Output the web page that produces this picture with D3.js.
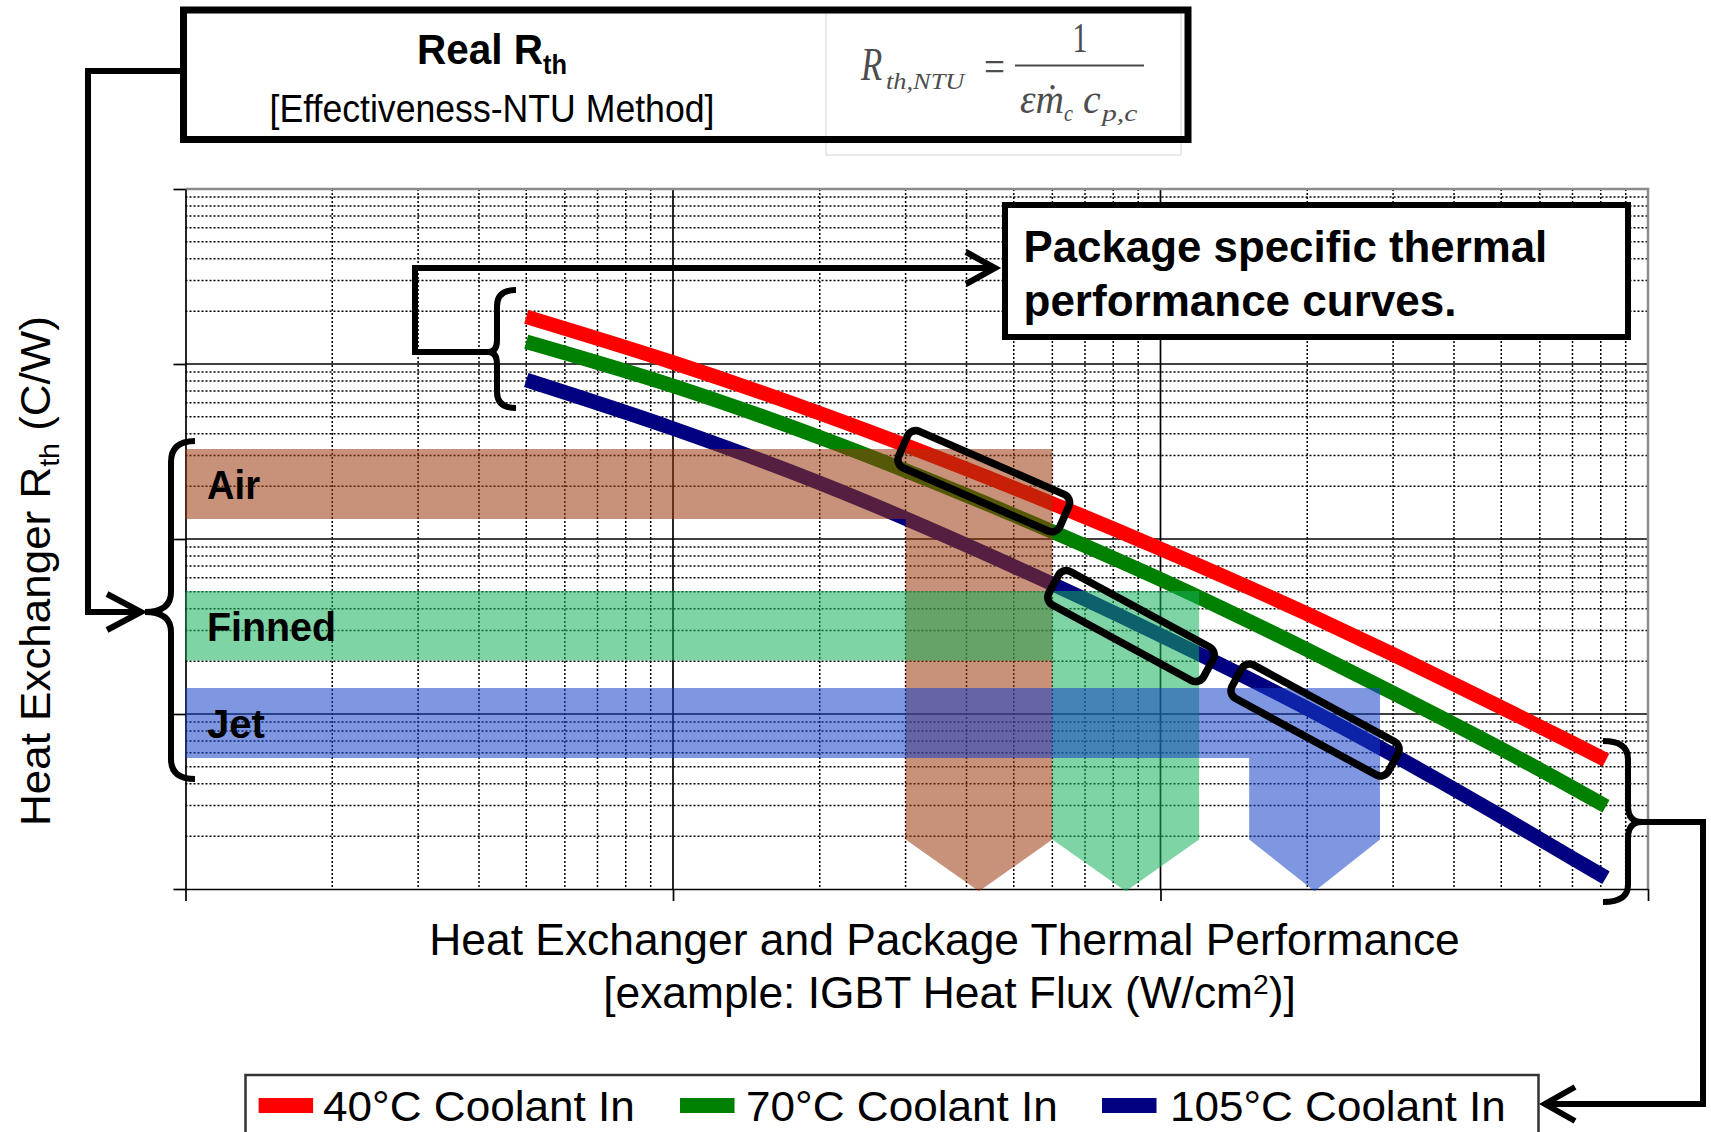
<!DOCTYPE html>
<html>
<head>
<meta charset="utf-8">
<script src="https://cdn.jsdelivr.net/npm/d3@7"></script>
<style>
  html, body { margin: 0; padding: 0; background: #fff; }
  svg { display: block; }
</style>
</head>
<body>
<script>
'use strict'

// heat flux (W/cm2) where the curves were read
let fluxX = [5, 10, 20, 50, 100, 200, 300, 500, 700, 820]
// heat exchanger Rth (C/W) for each coolant temperature
let rth40  = [18.6, 10.2, 5.23, 1.96, 0.879, 0.373, 0.219, 0.109, 0.0683, 0.0545]
let rth70  = [13.4, 7.5, 3.81, 1.37, 0.588, 0.233, 0.132, 0.0632, 0.038, 0.0297]
let rth105 = [8.1, 4.28, 2.09, 0.698, 0.282, 0.1075, 0.0584, 0.026, 0.015, 0.0116]

let seriesNames = ["40°C Coolant In", "70°C Coolant In", "105°C Coolant In"]
let seriesColors = ["#ff0000", "#008000", "#000080"]

// cooler technology bands: Rth range and flux range of the down arrow
let bandNames = ["Air", "Finned", "Jet"]
let bandRth = [[1.30, 3.27], [0.202, 0.505], [0.0561, 0.141]]
let bandFlux = [[30, 60], [60, 120], [152, 282]]
let bandColors = ["#9b390d", "#16b15b", "#1640c7"]
let arrowBottom = 0.0192, arrowTip = 0.0097

// black rounded boxes on the curves (centre in data units)
let boxFlux = [43.4, 87, 207.5]
let boxRth = [2.14, 0.318, 0.0924]

let width = 1711, height = 1132
let margin = { top: 189, right: 63, bottom: 243, left: 185.5 }

let x = d3.scaleLog().domain([1, 1000]).range([margin.left, width - margin.right])
let y = d3.scaleLog().domain([0.01, 100]).range([height - margin.bottom, margin.top])

let svg = d3.select("body").append("svg")
  .attr("width", width)
  .attr("height", height)

let sans = "'Liberation Sans', Arial, sans-serif"
let serif = "'Liberation Serif', 'Times New Roman', serif"

// text that is squeezed/stretched to a given width
function fitText(parent, tx, ty, w, opts, build) {
  let g = parent.append("g")
    .attr("transform", "translate(" + tx + "," + ty + ")" + (opts.rotate ? " rotate(" + opts.rotate + ")" : ""))
  let inner = g.append("g")
  let t = inner.append("text")
    .attr("text-anchor", opts.anchor || "start")
    .attr("fill", opts.fill || "#000")
    .style("font-family", opts.family || sans)
    .style("font-size", opts.size + "px")
    .style("font-weight", opts.weight || "normal")
    .style("font-style", opts.style || "normal")
  build(t)
  let bw = t.node().getBBox().width
  if (w && bw > 0) inner.attr("transform", "scale(" + (w / bw) + ",1)")
  return t
}

function isMajor(v) {
  let l = Math.log10(v)
  return Math.abs(l - Math.round(l)) < 1e-6
}

let [x0, x1] = x.range()
let [y0, y1] = y.range()

// minor grid, dotted
let xMinor = x.ticks().filter(v => !isMajor(v))
let yMinor = y.ticks().filter(v => !isMajor(v))

svg.append("g").selectAll("line")
  .data(yMinor).enter().append("line")
  .attr("x1", x0).attr("x2", x1)
  .attr("y1", d => y(d)).attr("y2", d => y(d))
  .attr("stroke", "#000").attr("stroke-width", 1.5).attr("stroke-dasharray", "2,2")

svg.append("g").selectAll("line")
  .data(xMinor).enter().append("line")
  .attr("x1", d => x(d)).attr("x2", d => x(d))
  .attr("y1", y1).attr("y2", y0)
  .attr("stroke", "#000").attr("stroke-width", 1.5).attr("stroke-dasharray", "2,2")

// major grid
let xMajor = [10, 100]
let yMajor = [0.1, 1, 10]
svg.append("g").selectAll("line")
  .data(yMajor).enter().append("line")
  .attr("x1", x0).attr("x2", x1)
  .attr("y1", d => y(d)).attr("y2", d => y(d))
  .attr("stroke", "#000").attr("stroke-width", 1.7)
svg.append("g").selectAll("line")
  .data(xMajor).enter().append("line")
  .attr("x1", d => x(d)).attr("x2", d => x(d))
  .attr("y1", y1).attr("y2", y0)
  .attr("stroke", "#000").attr("stroke-width", 1.7)

// gray frame top / right
svg.append("path")
  .attr("d", "M" + x0 + "," + y1 + "H" + x1 + "V" + y0)
  .attr("fill", "none").attr("stroke", "#8c8c8c").attr("stroke-width", 2.5)

// axes with outside ticks only
let yAxis = d3.axisLeft(y).tickValues([0.01, 0.1, 1, 10, 100]).tickSize(12).tickSizeOuter(0).tickFormat("")
let xAxis = d3.axisBottom(x).tickValues([1, 10, 100, 1000]).tickSize(12).tickSizeOuter(0).tickFormat("")
svg.append("g").attr("transform", "translate(" + x0 + ",0)").call(yAxis)
svg.append("g").attr("transform", "translate(0," + y0 + ")").call(xAxis)
svg.selectAll(".domain, .tick line").attr("stroke", "#000").attr("stroke-width", 1.7)

// curves
let line = d3.line()
  .x(d => x(d[0]))
  .y(d => y(d[1]))
  .curve(d3.curveMonotoneX)

let series = [rth40, rth70, rth105]
svg.append("g").selectAll("path")
  .data(series).enter().append("path")
  .attr("d", s => line(fluxX.map((f, i) => [f, s[i]])))
  .attr("fill", "none")
  .attr("stroke", (d, i) => seriesColors[i])
  .attr("stroke-width", 14.5)

// transparent technology bands with down arrows
function bandPoints(i) {
  let [lo, hi] = bandRth[i]
  let [f0, f1] = bandFlux[i]
  let fm = Math.sqrt(f0 * f1)
  return [
    [x0, y(hi)], [x(f1), y(hi)], [x(f1), y(arrowBottom)], [x(fm), y(arrowTip)],
    [x(f0), y(arrowBottom)], [x(f0), y(lo)], [x0, y(lo)]
  ]
}
svg.append("g").selectAll("polygon")
  .data(bandNames).enter().append("polygon")
  .attr("points", (d, i) => bandPoints(i).map(p => p.join(",")).join(" "))
  .attr("fill", (d, i) => bandColors[i])
  .attr("fill-opacity", 0.55)

// band labels
let bandLabelW = [53, 129, 58]
bandNames.forEach((name, i) => {
  let yy = y(bandRth[i][0]) - 20
  fitText(svg, 207, yy, bandLabelW[i], { size: 40, weight: "bold" }, t => t.text(name))
})

// rounded boxes
let boxW = [176, 176, 178], boxH = [40, 38, 38], boxA = [23.5, 28.5, 28.5]
svg.append("g").selectAll("rect")
  .data(boxFlux).enter().append("rect")
  .attr("x", (d, i) => -boxW[i] / 2).attr("y", (d, i) => -boxH[i] / 2)
  .attr("width", (d, i) => boxW[i]).attr("height", (d, i) => boxH[i])
  .attr("rx", 9)
  .attr("transform", (d, i) => "translate(" + x(d) + "," + y(boxRth[i]) + ") rotate(" + boxA[i] + ")")
  .attr("fill", "none").attr("stroke", "#000").attr("stroke-width", 7.5)

// braces, connectors and arrows
let ann = svg.append("g").attr("fill", "none").attr("stroke", "#000")
  .attr("stroke-width", 6).attr("stroke-linejoin", "miter")

// left big brace + arrow from title box
ann.append("path").attr("d", "M195,441 Q171,441 171,462 L171,592 Q171,612 145,612 Q171,612 171,632 L171,759 Q171,779 195,779")
ann.append("path").attr("d", "M183,71 L88,71 L88,612 L140,612")
ann.append("path").attr("d", "M107,594 L141,612 L107,630")

// small brace at curve start + arrow to package text
ann.append("path").attr("d", "M516,290 Q497,290 497,306 L497,340 Q497,352 488,352 Q497,352 497,364 L497,392 Q497,408 516,408")
ann.append("path").attr("d", "M490,352 L415,352 L415,268 L992,268")
ann.append("path").attr("d", "M966,252 L995,268 L966,284")

// right brace + arrow to legend
ann.append("path").attr("d", "M1603,741 Q1628,741 1628,759 L1628,806 Q1628,822 1642,822 Q1628,822 1628,838 L1628,885 Q1628,902 1603,902")
ann.append("path").attr("d", "M1638,822 L1703,822 L1703,1104 L1548,1104")
ann.append("path").attr("d", "M1575,1087 L1545,1104 L1575,1121")

// package box
svg.append("rect")
  .attr("x", 1005).attr("y", 205).attr("width", 623).attr("height", 132)
  .attr("fill", "#fff").attr("stroke", "#000").attr("stroke-width", 6)
fitText(svg, 1023.5, 262, 524, { size: 44, weight: "bold" }, t => t.text("Package specific thermal"))
fitText(svg, 1023.5, 316, 433, { size: 44, weight: "bold" }, t => t.text("performance curves."))

// formula box behind the title box
svg.append("rect")
  .attr("x", 826).attr("y", 10).attr("width", 355).attr("height", 145)
  .attr("fill", "#fff").attr("stroke", "#e2e2e2").attr("stroke-width", 1.5)

// title box
svg.append("rect")
  .attr("x", 183.5).attr("y", 10).attr("width", 1004.5).attr("height", 129.5)
  .attr("fill", "none").attr("stroke", "#000").attr("stroke-width", 7)

fitText(svg, 492, 64, 150, { size: 43, weight: "bold", anchor: "middle" }, t => {
  t.append("tspan").text("Real R")
  t.append("tspan").attr("dy", 10).style("font-size", "27px").text("th")
})
fitText(svg, 492, 122, 445, { size: 38, anchor: "middle" }, t => t.text("[Effectiveness-NTU Method]"))

// formula
let fcol = "#4d4d4d"
fitText(svg, 861, 80, 22, { size: 46, style: "italic", family: serif, fill: fcol }, t => t.text("R"))
fitText(svg, 886, 89, 80, { size: 23, style: "italic", family: serif, fill: fcol }, t => t.text("th,NTU"))
fitText(svg, 984, 81, 21, { size: 44, family: serif, fill: fcol }, t => t.text("="))
svg.append("line").attr("x1", 1015).attr("x2", 1144).attr("y1", 65.5).attr("y2", 65.5)
  .attr("stroke", fcol).attr("stroke-width", 2)
fitText(svg, 1080, 52, 15, { size: 42, family: serif, fill: fcol, anchor: "middle" }, t => t.text("1"))
fitText(svg, 1020, 113, 44, { size: 42, style: "italic", family: serif, fill: fcol }, t => t.text("εṁ"))
fitText(svg, 1064, 121, 9, { size: 23, style: "italic", family: serif, fill: fcol }, t => t.text("c"))
fitText(svg, 1083, 113, 18, { size: 42, style: "italic", family: serif, fill: fcol }, t => t.text("c"))
fitText(svg, 1102, 121, 38, { size: 23, style: "italic", family: serif, fill: fcol }, t => t.text("p,c"))

// axis titles
fitText(svg, 50, 571, 510, { size: 43, anchor: "middle", rotate: -90 }, t => {
  t.append("tspan").text("Heat Exchanger R")
  t.append("tspan").attr("dy", 9).style("font-size", "28px").text("th")
  t.append("tspan").attr("dy", -9).text("  (C/W)")
})
fitText(svg, 944.5, 955, 1031, { size: 44, anchor: "middle" }, t => t.text("Heat Exchanger and Package Thermal Performance"))
fitText(svg, 949.5, 1008, 693, { size: 44, anchor: "middle" }, t => {
  t.append("tspan").text("[example: IGBT Heat Flux (W/cm")
  t.append("tspan").attr("dy", -14).style("font-size", "28px").text("2")
  t.append("tspan").attr("dy", 14).text(")]")
})

// legend (its bottom runs off the picture, as in the original)
svg.append("rect")
  .attr("x", 245.5).attr("y", 1075).attr("width", 1293).attr("height", 80)
  .attr("fill", "#fff").attr("stroke", "#333").attr("stroke-width", 2.5)
let legSwatchX = [258.6, 680, 1102]
let legTextX = [323, 746, 1170]
let legTextW = [312, 312, 336]
seriesNames.forEach((name, i) => {
  svg.append("rect")
    .attr("x", legSwatchX[i]).attr("y", 1098).attr("width", 54.5).attr("height", 15)
    .attr("fill", seriesColors[i])
  fitText(svg, legTextX[i], 1121, legTextW[i], { size: 42 }, t => t.text(name))
})
</script>
</body>
</html>
